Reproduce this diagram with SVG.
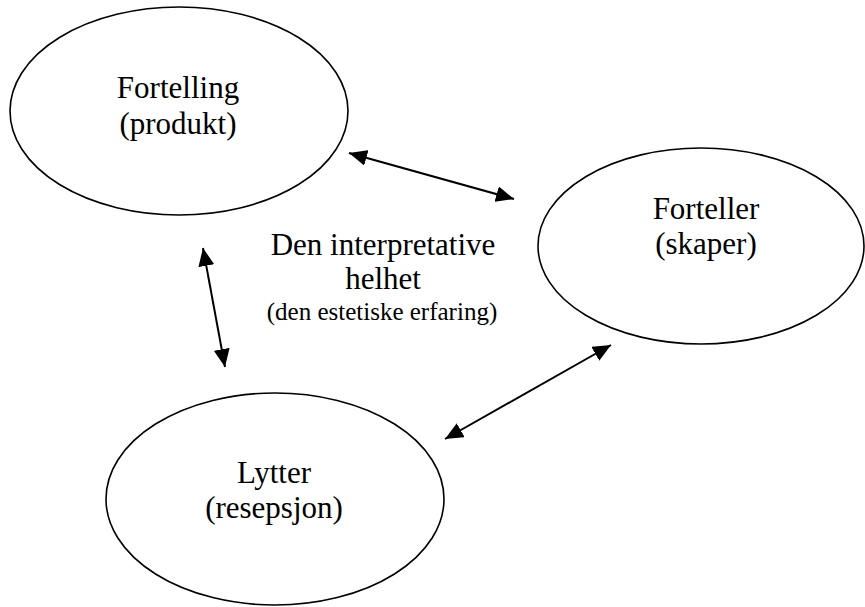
<svg xmlns="http://www.w3.org/2000/svg" width="865" height="607" viewBox="0 0 865 607">
<style>
.node{fill:#fff;stroke:#000;stroke-width:1.6}
.t{font-family:'Liberation Serif','Times New Roman',Times,serif;font-size:31px;fill:#000;text-anchor:middle}
.s{font-size:25px}
.c{stroke:#000;stroke-width:2;fill:none;marker-start:url(#ah);marker-end:url(#ah)}
</style>
<defs>
<marker id="ah" markerUnits="userSpaceOnUse" markerWidth="20" markerHeight="16" refX="18" refY="8" orient="auto-start-reverse">
<path d="M0,0 L18,8 L0,16 Z" fill="#000"/>
</marker>
</defs>
<rect width="865" height="607" fill="#fff"/>
<g id="fortelling">
<ellipse class="node" cx="179" cy="111" rx="169" ry="104"/>
<text class="t" x="178" y="98" font-family="Liberation Serif, serif">Fortelling</text>
<text class="t" x="178" y="134" font-family="Liberation Serif, serif">(produkt)</text>
</g>
<g id="forteller">
<ellipse class="node" cx="701" cy="246" rx="163" ry="98"/>
<text class="t" x="706" y="219">Forteller</text>
<text class="t" x="706" y="254">(skaper)</text>
</g>
<g id="lytter">
<ellipse class="node" cx="275" cy="499" rx="169" ry="106"/>
<text class="t" x="274" y="483">Lytter</text>
<text class="t" x="274" y="518">(resepsjon)</text>
</g>
<g id="center-label">
<text class="t" x="383" y="255">Den interpretative</text>
<text class="t" x="383" y="289">helhet</text>
<text class="t s" x="382" y="320">(den estetiske erfaring)</text>
</g>
<g id="connectors">
<line class="c" x1="349" y1="153" x2="514" y2="199"/>
<line class="c" x1="203" y1="248" x2="225" y2="367"/>
<line class="c" x1="611" y1="345" x2="445" y2="439"/>
</g>
</svg>
